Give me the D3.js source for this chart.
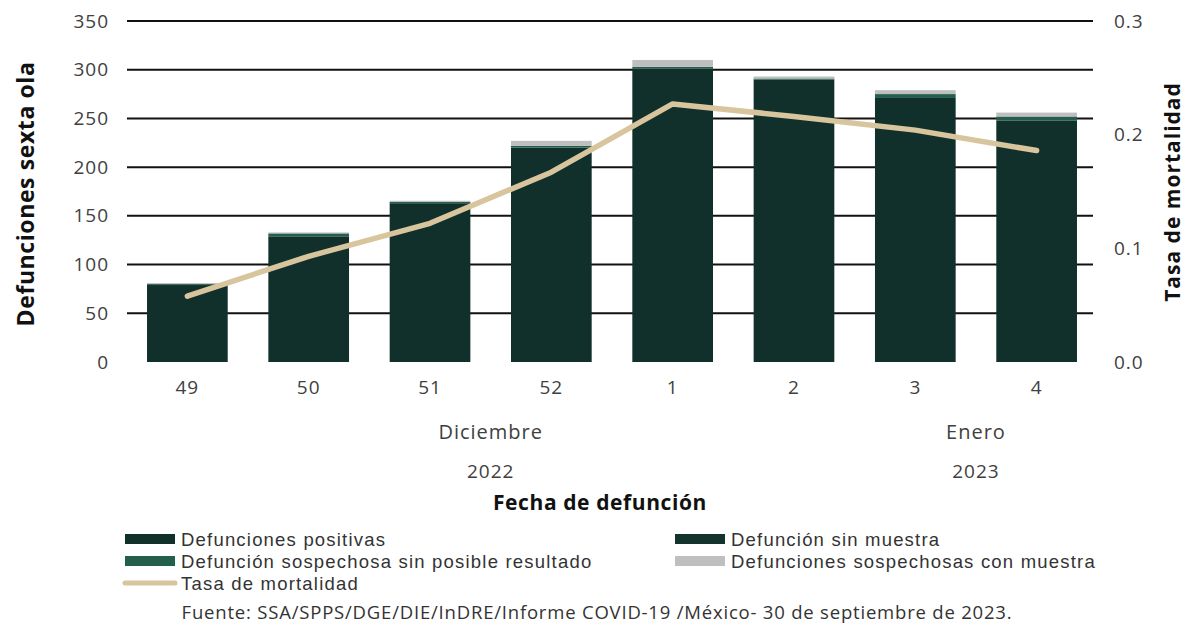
<!DOCTYPE html>
<html lang="es">
<head>
<meta charset="utf-8">
<script src="https://cdn.jsdelivr.net/npm/d3@7"></script>
<style>
  html, body { margin: 0; padding: 0; background: #ffffff; }
  svg { display: block; font-family: "Open Sans", "DejaVu Sans", sans-serif; }
</style>
</head>
<body>
<svg id="chart" width="1186" height="627"></svg>
<script>
// Epidemiological weeks (week 49 of 2022 to week 4 of 2023)
const weeks = ["49", "50", "51", "52", "1", "2", "3", "4"];

// Deaths per week, by classification
const positivas        = [79, 129, 163, 220, 301, 290, 271, 248];
const sinMuestra       = [0, 0, 0, 0, 0, 0, 0, 0];
const sospechosaSinRes = [1, 3, 1.5, 2, 2, 1, 4, 4];
const sospechosaConMue = [1, 1, 1, 5, 7, 2, 4, 4];

// Mortality rate per week
const tasa = [0.058, 0.093, 0.122, 0.167, 0.227, 0.216, 0.204, 0.186];

// Axis tick values
const leftTicks = [0, 50, 100, 150, 200, 250, 300, 350];
const rightTicks = [0.0, 0.1, 0.2, 0.3];

// Month and year labels, centred between two weeks
const monthLabels = [
  { text: "Diciembre", from: "51", to: "52" },
  { text: "Enero", from: "3", to: "4" }
];
const yearLabels = [
  { text: "2022", from: "51", to: "52" },
  { text: "2023", from: "3", to: "4" }
];

const seriesNames = [
  "Defunciones positivas",
  "Defunción sin muestra",
  "Defunción sospechosa sin posible resultado",
  "Defunciones sospechosas con muestra"
];
const seriesColors = ["#12302b", "#14332d", "#245f4e", "#bfbfbf"];
const lineColor = "#d8c59d";

const svg = d3.select("#chart");
const margin = { top: 21, left: 127, right: 1097, bottom: 362 };

const x = d3.scaleBand().domain(weeks).range([margin.left, margin.right]).paddingInner(0.335).paddingOuter(0.165);
const y = d3.scaleLinear().domain([0, 350]).range([margin.bottom, margin.top]);
const yR = d3.scaleLinear().domain([0, 0.3]).range([margin.bottom, margin.top]);

const tickStyle = sel => sel
  .attr("font-size", 19).attr("fill", "#404040")
  .attr("letter-spacing", 1)
  .attr("font-family", "'Open Sans', sans-serif");

// Horizontal gridlines
svg.append("g")
  .selectAll("line")
  .data(leftTicks.filter(d => d > 0))
  .join("line")
  .attr("x1", margin.left).attr("x2", 1093)
  .attr("y1", d => y(d)).attr("y2", d => y(d))
  .attr("stroke", "#111").attr("stroke-width", 2);

// Stacked bars
const rows = weeks.map((w, i) => ({
  week: w,
  s0: positivas[i], s1: sinMuestra[i], s2: sospechosaSinRes[i], s3: sospechosaConMue[i]
}));
const stack = d3.stack().keys(["s0", "s1", "s2", "s3"])(rows);

svg.append("g")
  .selectAll("g")
  .data(stack)
  .join("g")
  .attr("fill", (d, i) => seriesColors[i])
  .selectAll("rect")
  .data(d => d)
  .join("rect")
  .attr("x", d => x(d.data.week))
  .attr("width", x.bandwidth())
  .attr("y", d => y(d[1]))
  .attr("height", d => Math.max(0, y(d[0]) - y(d[1])));

// Mortality rate line
const line = d3.line()
  .x((d, i) => x(weeks[i]) + x.bandwidth() / 2)
  .y(d => yR(d));
svg.append("path")
  .datum(tasa)
  .attr("d", line)
  .attr("fill", "none")
  .attr("stroke", lineColor)
  .attr("stroke-width", 5.5)
  .attr("stroke-linecap", "round")
  .attr("stroke-linejoin", "round");

// Left axis labels
const leftAxis = d3.axisLeft(y).tickValues(leftTicks).tickSize(0).tickPadding(0);
const gl = svg.append("g").attr("transform", `translate(109,0)`).call(leftAxis);
gl.select(".domain").remove();
gl.selectAll("text").call(tickStyle);

// Right axis labels
const rightAxis = d3.axisRight(yR).tickValues(rightTicks).tickFormat(d3.format(".1f")).tickSize(0).tickPadding(0);
const gr = svg.append("g").attr("transform", `translate(1114,0)`).call(rightAxis);
gr.select(".domain").remove();
gr.selectAll("text").call(tickStyle);

// Bottom axis labels (weeks)
const bottomAxis = d3.axisBottom(x).tickSize(0).tickPadding(0);
const gb = svg.append("g").attr("transform", `translate(0,380)`).call(bottomAxis);
gb.select(".domain").remove();
gb.selectAll("text").call(tickStyle);

const mid = l => (x(l.from) + x(l.to)) / 2 + x.bandwidth() / 2;

svg.append("g").selectAll("text").data(monthLabels).join("text")
  .attr("x", mid).attr("y", 439)
  .attr("text-anchor", "middle")
  .call(tickStyle).attr("font-size", 20)
  .text(d => d.text);

svg.append("g").selectAll("text").data(yearLabels).join("text")
  .attr("x", mid).attr("y", 478)
  .attr("text-anchor", "middle")
  .call(tickStyle)
  .text(d => d.text);

// Axis titles
svg.append("text")
  .attr("x", 600).attr("y", 510)
  .attr("text-anchor", "middle").attr("font-size", 21).attr("font-weight", 700)
  .attr("letter-spacing", 0.6).attr("fill", "#111")
  .text("Fecha de defunción");

svg.append("text")
  .attr("transform", "translate(34,194) rotate(-90)")
  .attr("text-anchor", "middle").attr("font-size", 23).attr("font-weight", 700)
  .attr("letter-spacing", 0.6).attr("fill", "#111")
  .text("Defunciones sexta ola");

svg.append("text")
  .attr("transform", "translate(1180,192) rotate(-90)")
  .attr("text-anchor", "middle").attr("font-size", 21).attr("font-weight", 700)
  .attr("letter-spacing", 1).attr("fill", "#111")
  .text("Tasa de mortalidad");

// Legend
const legendItems = [
  { name: seriesNames[0], color: seriesColors[0], type: "rect", x: 125, y: 539 },
  { name: seriesNames[1], color: seriesColors[1], type: "rect", x: 675, y: 539 },
  { name: seriesNames[2], color: seriesColors[2], type: "rect", x: 125, y: 561 },
  { name: seriesNames[3], color: seriesColors[3], type: "rect", x: 675, y: 561 },
  { name: "Tasa de mortalidad", color: lineColor, type: "line", x: 125, y: 583 }
];
const lg = svg.append("g").selectAll("g").data(legendItems).join("g")
  .attr("transform", d => `translate(${d.x},${d.y})`);
lg.filter(d => d.type === "rect").append("rect")
  .attr("x", 0).attr("y", -5).attr("width", 50).attr("height", 10)
  .attr("fill", d => d.color);
lg.filter(d => d.type === "line").append("line")
  .attr("x1", 0).attr("x2", 50).attr("y1", 0).attr("y2", 0)
  .attr("stroke", d => d.color).attr("stroke-width", 5).attr("stroke-linecap", "round");
lg.append("text")
  .attr("x", 56).attr("y", 6.5)
  .attr("font-family", "'Liberation Sans', Arial, sans-serif")
  .attr("font-size", 18.5).attr("letter-spacing", 1.2).attr("fill", "#333")
  .text(d => d.name);

// Source note
svg.append("text")
  .attr("x", 597).attr("y", 619)
  .attr("text-anchor", "middle").attr("font-size", 18.5).attr("letter-spacing", 0.8).attr("fill", "#333")
  .text("Fuente: SSA/SPPS/DGE/DIE/InDRE/Informe COVID-19 /México- 30 de septiembre de 2023.");
</script>
</body>
</html>
